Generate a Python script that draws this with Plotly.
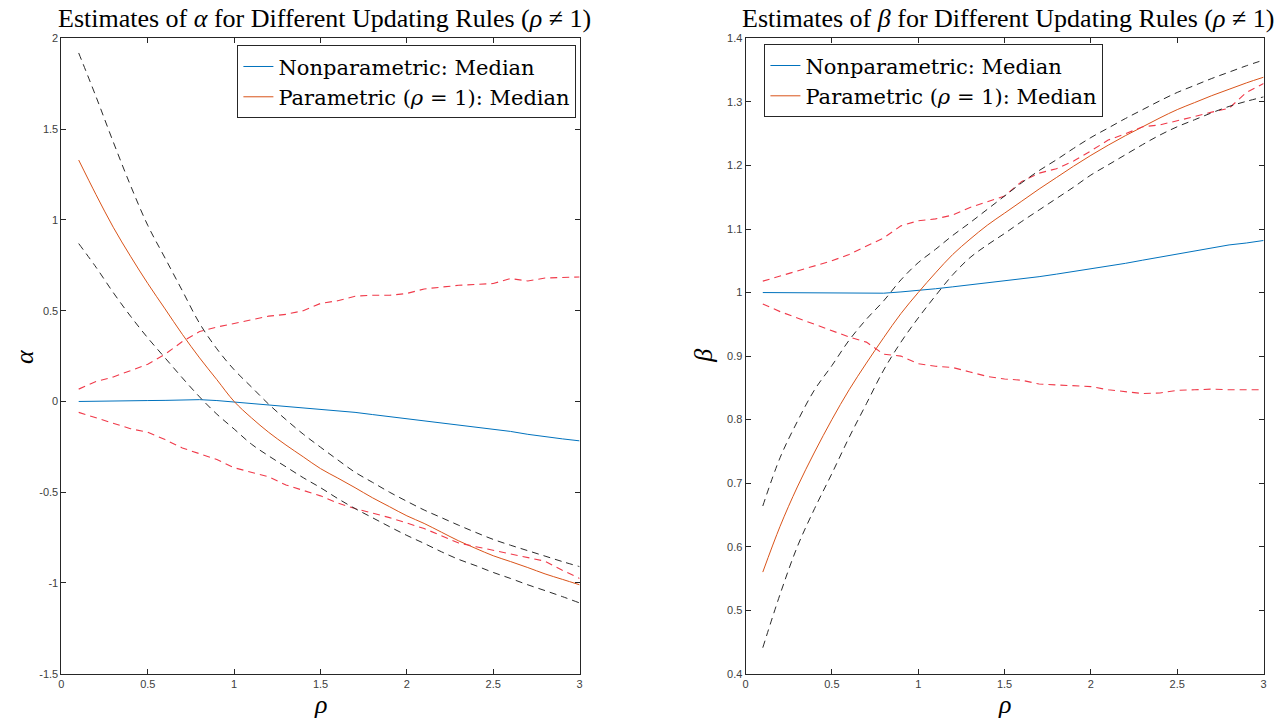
import plotly.graph_objects as go

rho = [0.1, 0.2, 0.3, 0.4, 0.5, 0.6, 0.7, 0.8, 0.9, 1.0,
       1.1, 1.2, 1.3, 1.4, 1.5, 1.6, 1.7, 1.8, 1.9, 2.0,
       2.1, 2.2, 2.3, 2.4, 2.5, 2.6, 2.7, 2.8, 2.9, 3.0]

# ---- alpha panel ----
alpha_nonpar_median = [0.000, 0.002, 0.003, 0.004, 0.005, 0.006, 0.008, 0.010, 0.005, -0.003,
                       -0.010, -0.016, -0.024, -0.033, -0.042, -0.051, -0.060, -0.072, -0.084, -0.094,
                       -0.105, -0.117, -0.130, -0.141, -0.152, -0.165, -0.181, -0.195, -0.206, -0.217]
alpha_nonpar_upper = [0.068, 0.110, 0.135, 0.170, 0.205, 0.260, 0.330, 0.385, 0.410, 0.430,
                      0.450, 0.470, 0.480, 0.500, 0.540, 0.555, 0.580, 0.585, 0.585, 0.595,
                      0.620, 0.630, 0.640, 0.645, 0.650, 0.677, 0.664, 0.680, 0.684, 0.686]
alpha_nonpar_lower = [-0.060, -0.090, -0.120, -0.150, -0.170, -0.210, -0.256, -0.290, -0.320, -0.365,
                      -0.390, -0.415, -0.460, -0.490, -0.520, -0.560, -0.590, -0.615, -0.640, -0.670,
                      -0.700, -0.740, -0.780, -0.800, -0.820, -0.840, -0.860, -0.880, -0.930, -0.975]
alpha_par_median = [1.330, 1.140, 0.960, 0.800, 0.650, 0.510, 0.370, 0.240, 0.120, 0.000,
                    -0.090, -0.170, -0.240, -0.305, -0.370, -0.422, -0.475, -0.530, -0.580, -0.630,
                    -0.672, -0.720, -0.768, -0.810, -0.850, -0.882, -0.915, -0.950, -0.980, -1.010]
alpha_par_upper = [1.920, 1.680, 1.430, 1.190, 0.970, 0.790, 0.610, 0.430, 0.290, 0.175,
                   0.080, -0.015, -0.100, -0.180, -0.252, -0.322, -0.390, -0.445, -0.500, -0.550,
                   -0.598, -0.640, -0.682, -0.722, -0.760, -0.792, -0.822, -0.852, -0.882, -0.910]
alpha_par_lower = [0.870, 0.740, 0.600, 0.470, 0.350, 0.240, 0.130, 0.025, -0.070, -0.152,
                   -0.235, -0.300, -0.360, -0.420, -0.475, -0.535, -0.590, -0.640, -0.690, -0.738,
                   -0.782, -0.828, -0.870, -0.905, -0.942, -0.975, -1.010, -1.042, -1.075, -1.110]

# ---- beta panel ----
beta_nonpar_median = [1.000, 1.000, 1.000, 1.000, 1.000, 1.000, 0.999, 0.999, 1.001, 1.003,
                      1.006, 1.009, 1.012, 1.015, 1.018, 1.022, 1.025, 1.029, 1.033, 1.037,
                      1.041, 1.046, 1.051, 1.056, 1.061, 1.066, 1.071, 1.075, 1.078, 1.082]
beta_nonpar_upper = [1.018, 1.026, 1.035, 1.042, 1.050, 1.060, 1.073, 1.086, 1.105, 1.113,
                     1.116, 1.122, 1.134, 1.143, 1.152, 1.175, 1.188, 1.195, 1.207, 1.223,
                     1.240, 1.250, 1.261, 1.264, 1.270, 1.277, 1.284, 1.290, 1.315, 1.329]
beta_nonpar_lower = [0.982, 0.970, 0.960, 0.950, 0.940, 0.930, 0.922, 0.903, 0.900, 0.888,
                     0.884, 0.882, 0.875, 0.868, 0.864, 0.862, 0.856, 0.855, 0.853, 0.852,
                     0.847, 0.844, 0.841, 0.842, 0.846, 0.847, 0.848, 0.847, 0.847, 0.847]
beta_par_median = [0.560, 0.632, 0.694, 0.749, 0.800, 0.847, 0.889, 0.929, 0.967, 1.000,
                   1.031, 1.060, 1.084, 1.106, 1.125, 1.144, 1.163, 1.181, 1.199, 1.216,
                   1.232, 1.247, 1.261, 1.275, 1.288, 1.299, 1.310, 1.320, 1.330, 1.339]
beta_par_upper = [0.664, 0.740, 0.797, 0.847, 0.885, 0.925, 0.958, 0.987, 1.020, 1.047,
                  1.068, 1.090, 1.110, 1.131, 1.152, 1.173, 1.192, 1.209, 1.227, 1.244,
                  1.259, 1.274, 1.288, 1.302, 1.315, 1.326, 1.337, 1.347, 1.357, 1.366]
beta_par_lower = [0.441, 0.525, 0.600, 0.660, 0.715, 0.772, 0.825, 0.878, 0.922, 0.960,
                  0.995, 1.028, 1.055, 1.075, 1.093, 1.112, 1.130, 1.148, 1.166, 1.185,
                  1.201, 1.217, 1.233, 1.248, 1.261, 1.272, 1.283, 1.293, 1.301, 1.308]

x_ticks = [0, 0.5, 1, 1.5, 2, 2.5, 3]
x_ticktext = ["0", "0.5", "1", "1.5", "2", "2.5", "3"]
alpha_ticks = [-1.5, -1, -0.5, 0, 0.5, 1, 1.5, 2]
alpha_ticktext = ["-1.5", "-1", "-0.5", "0", "0.5", "1", "1.5", "2"]
beta_ticks = [0.4, 0.5, 0.6, 0.7, 0.8, 0.9, 1.0, 1.1, 1.2, 1.3, 1.4]
beta_ticktext = ["0.4", "0.5", "0.6", "0.7", "0.8", "0.9", "1", "1.1", "1.2", "1.3", "1.4"]

BLUE = "#0072BD"
ORANGE = "#D95319"
RED = "#F03A4A"
BLACK = "#2a2a2a"
AX = "#262626"
TICKC = "#404040"
DASH = "7px,5px"
SERIF = "Liberation Serif, DejaVu Serif, serif"
LEGSERIF = "DejaVu Serif, Liberation Serif, serif"
SANS = "Liberation Sans, Arial, sans-serif"

W, H = 1288, 723
L_X = (58.7 / W, 579.3 / W)
R_X = (746 / W, 1266.5 / W)
Y_D = ((H - 679) / H, (H - 33) / H)

fig = go.Figure()

def add_panel(xa, ya, legend, npm, npu, npl, pm, pu, pl):
    fig.add_trace(go.Scatter(x=rho, y=npm, mode="lines", name="Nonparametric: Median",
                             line=dict(color=BLUE, width=1), xaxis=xa, yaxis=ya, legend=legend))
    fig.add_trace(go.Scatter(x=rho, y=pm, mode="lines", name="Parametric (<i>ρ</i> = 1): Median",
                             line=dict(color=ORANGE, width=1, shape="spline", smoothing=1),
                             xaxis=xa, yaxis=ya, legend=legend))
    for s in (npu, npl):
        fig.add_trace(go.Scatter(x=rho, y=s, mode="lines", showlegend=False,
                                 line=dict(color=RED, width=1.1, dash=DASH), xaxis=xa, yaxis=ya))
    for s in (pu, pl):
        fig.add_trace(go.Scatter(x=rho, y=s, mode="lines", showlegend=False,
                                 line=dict(color=BLACK, width=1, dash=DASH, shape="spline", smoothing=1),
                                 xaxis=xa, yaxis=ya))

add_panel("x", "y", "legend", alpha_nonpar_median, alpha_nonpar_upper, alpha_nonpar_lower,
          alpha_par_median, alpha_par_upper, alpha_par_lower)
add_panel("x2", "y2", "legend2", beta_nonpar_median, beta_nonpar_upper, beta_nonpar_lower,
          beta_par_median, beta_par_upper, beta_par_lower)

axis_common = dict(showgrid=False, zeroline=False, showline=True, linecolor=AX, linewidth=1,
                   mirror="ticks", ticks="inside", ticklen=5, tickcolor=AX, tickwidth=1,
                   tickfont=dict(family=SANS, size=11, color=TICKC))

legend_common = dict(xanchor="left", yanchor="top", bgcolor="white", bordercolor=AX,
                     borderwidth=1, font=dict(family=LEGSERIF, size=21, color="#000000"),
                     itemwidth=30, tracegroupgap=0)

fig.update_layout(
    width=W, height=H, paper_bgcolor="white", plot_bgcolor="white",
    margin=dict(l=0, r=0, t=0, b=0),
    xaxis=dict(domain=L_X, range=[0, 3], tickvals=x_ticks, ticktext=x_ticktext, anchor="y", **axis_common),
    yaxis=dict(domain=Y_D, range=[-1.5, 2], tickvals=alpha_ticks, ticktext=alpha_ticktext, anchor="x", **axis_common),
    xaxis2=dict(domain=R_X, range=[0, 3], tickvals=x_ticks, ticktext=x_ticktext, anchor="y2", **axis_common),
    yaxis2=dict(domain=Y_D, range=[0.4, 1.4], tickvals=beta_ticks, ticktext=beta_ticktext, anchor="x2", **axis_common),
    legend=dict(x=235.5 / W, y=(H - 40) / H, **legend_common),
    legend2=dict(x=765 / W, y=(H - 39) / H, **legend_common),
    showlegend=True,
)

def ann(text, xpx, ypx, size, angle=0):
    fig.add_annotation(text=text, x=xpx / W, y=(H - ypx) / H, xref="paper", yref="paper",
                       showarrow=False, xanchor="center", yanchor="middle", textangle=angle,
                       font=dict(family=SERIF, size=size, color="#000000"))

ann("Estimates of <i>α</i> for Different Updating Rules (<i>ρ</i> ≠ 1)", 323, 13, 26)
ann("Estimates of <i>β</i> for Different Updating Rules (<i>ρ</i> ≠ 1)", 1010, 13, 26)
ann("<i>α</i>", 21, 356, 26, -90)
ann("<i>β</i>", 703, 356, 26, -90)
ann("<i>ρ</i>", 319, 710, 26)
ann("<i>ρ</i>", 1006, 710, 26)

fig.write_html("out.html", config={"displayModeBar": False},
               post_script="document.body.style.margin='0';document.body.style.overflow='hidden';")
